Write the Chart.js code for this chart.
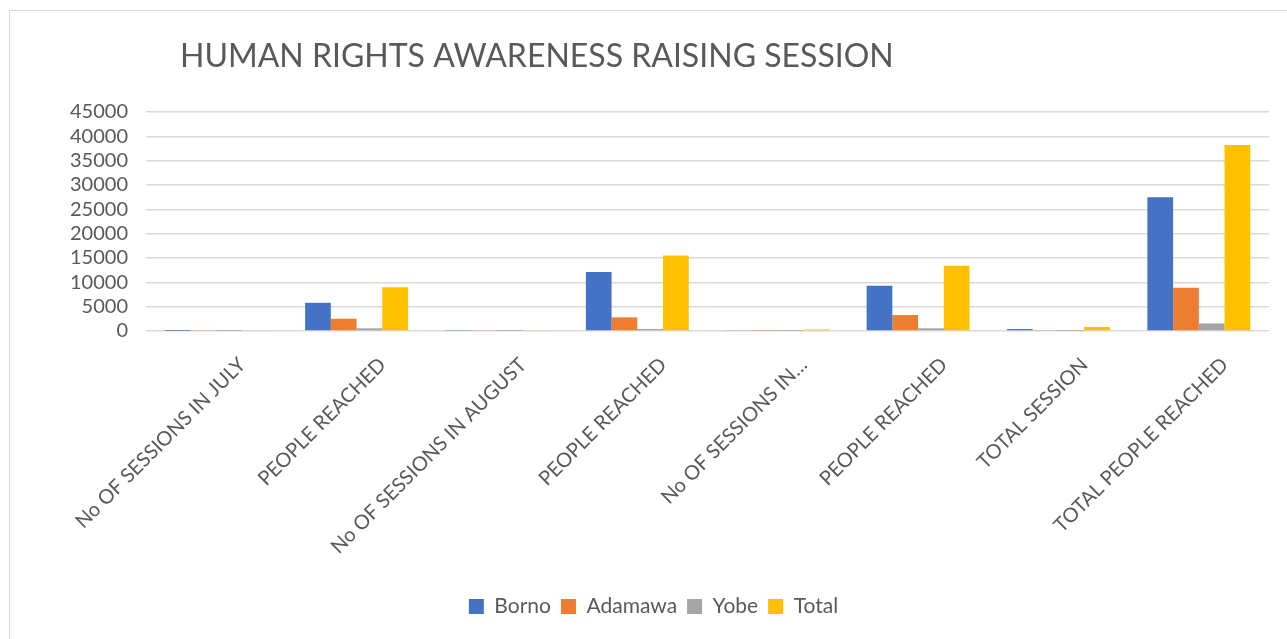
<!DOCTYPE html>
<html>
<head>
<meta charset="utf-8">
<script src="https://cdn.jsdelivr.net/npm/chart.js@4.4.0/dist/chart.umd.min.js"></script>
<style>
  html, body { margin: 0; padding: 0; background: #fff; }
  #wrap { position: relative; width: 1287px; height: 639px; overflow: hidden; }
  #frame { position: absolute; left: 9px; top: 10px; width: 1300px; height: 700px; border: 1.5px solid #d9d9d9; box-sizing: border-box; }
  canvas { position: absolute; left: 0; top: 0; }
</style>
</head>
<body>
<div id="wrap">
  <div id="frame"></div>
  <canvas id="c" width="1287" height="639"></canvas>
</div>
<script>
const chartTitle = "HUMAN RIGHTS AWARENESS RAISING SESSION";
const categories = ["No OF SESSIONS IN JULY", "PEOPLE REACHED", "No OF SESSIONS IN AUGUST", "PEOPLE REACHED", "No OF SESSIONS IN…", "PEOPLE REACHED", "TOTAL SESSION", "TOTAL PEOPLE REACHED"];
const borno   = [10, 5800, 90, 12100, 120, 9300, 400, 27500];
const adamawa = [100, 2520, 100, 2800, 80, 3280, 90, 8900];
const yobe    = [20, 550, 30, 420, 30, 560, 40, 1550];
const total   = [140, 9000, 120, 15500, 300, 13400, 820, 38200];
const yMax = 45000;
const yStep = 5000;

const FONT = "Lato, 'Open Sans', sans-serif";
const TXT = "#595959";

const titlePlugin = {
  id: 'leftTitle',
  afterDraw(chart) {
    const ctx = chart.ctx;
    ctx.save();
    ctx.font = "32px " + FONT;
    ctx.fillStyle = TXT;
    ctx.textBaseline = 'alphabetic';
    ctx.textAlign = 'left';
    ctx.fillText(chartTitle, 180, 67);
    ctx.restore();
  }
};

new Chart(document.getElementById('c'), {
  type: 'bar',
  data: {
    labels: categories,
    datasets: [
      { label: 'Borno', data: borno, backgroundColor: '#4472C4' },
      { label: 'Adamawa', data: adamawa, backgroundColor: '#ED7D31' },
      { label: 'Yobe', data: yobe, backgroundColor: '#A5A5A5' },
      { label: 'Total', data: total, backgroundColor: '#FFC000' }
    ]
  },
  options: {
    responsive: false,
    animation: false,
    layout: { padding: { left: 24, right: 4, top: 112, bottom: 12 } },
    datasets: { bar: { barPercentage: 1.0, categoryPercentage: 0.733 } },
    plugins: {
      title: { display: false },
      tooltip: { enabled: false },
      legend: {
        position: 'bottom',
        labels: {
          color: TXT,
          font: { family: FONT, size: 21 },
          boxWidth: 15, boxHeight: 15,
          padding: 10
        }
      }
    },
    scales: {
      x: {
        grid: { display: false },
        border: { display: false },
        ticks: {
          color: TXT,
          font: { family: FONT, size: 20 },
          minRotation: 45, maxRotation: 45,
          padding: 14,
          labelOffset: 26,
          autoSkip: false
        },
        afterFit(scale) { scale.height = 255; }
      },
      y: {
        min: 0, max: yMax,
        border: { display: false },
        grid: { color: '#d9d9d9', lineWidth: 1.5, drawTicks: false },
        ticks: {
          stepSize: yStep,
          autoSkip: false,
          color: TXT,
          font: { family: FONT, size: 20 },
          padding: 18,
          callback: v => String(v)
        },
        afterFit(scale) { scale.width = 122; }
      },
      yRight: {
        position: 'right',
        display: true,
        min: 0, max: yMax,
        grid: { display: false, drawTicks: false },
        border: { display: false },
        ticks: { display: false },
        afterFit(scale) { scale.width = 14; }
      }
    }
  },
  plugins: [titlePlugin]
});
</script>
</body>
</html>
